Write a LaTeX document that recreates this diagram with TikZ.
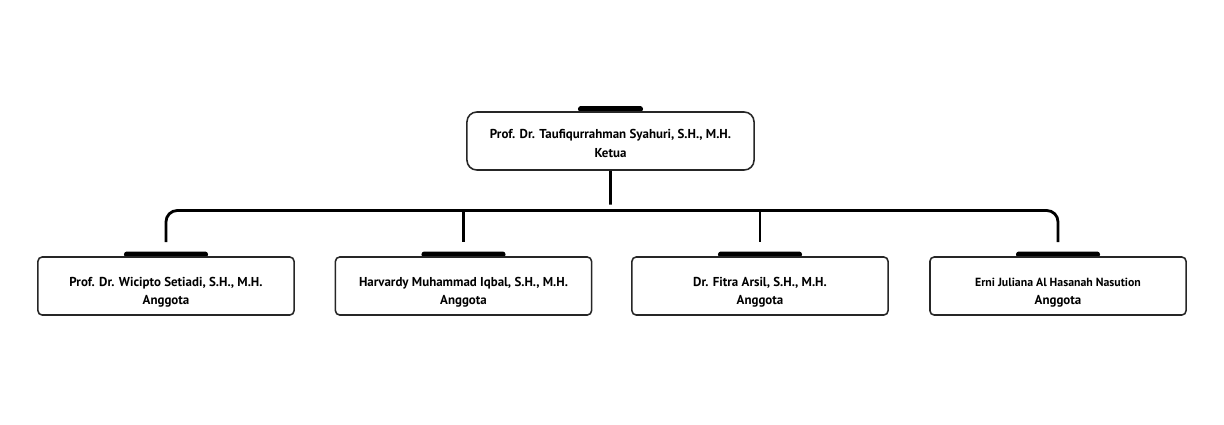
\documentclass[tikz,border=0pt]{standalone}
\usepackage{fontspec}
\setmainfont{PT Sans}
\usetikzlibrary{positioning, calc}

\newcommand{\gap}[1][15pt]{\rule{0pt}{#1}}
\tikzset{
  member/.style={draw=black!85, line width=1.1pt, rounded corners=3pt, fill=white, minimum width=6.4cm, minimum height=1.45cm, align=center, inner sep=2pt, font=\bfseries\fontsize{9.2}{12.8}\selectfont},
  chair/.style={member, rounded corners=7pt, minimum width=7.175cm},
  tab/.style={fill=black, rounded corners=2pt, minimum width=2.1cm, minimum height=0.15cm, inner sep=0pt},
  link/.style={line width=2pt, black}
}

\begin{document}
\begin{tikzpicture}[x=0.025cm, y=-0.025cm]
  \fill[white] (0,0) rectangle (1224,424);
  \useasboundingbox (0,0) rectangle (1224,424);

  % Ketua
  \node[tab, minimum width=1.625cm] (t0) at (610.5,109) {};
  \node[chair] (ketua) at (610.5,141) {\gap[10pt]Prof. Dr. Taufiqurrahman Syahuri, S.H., M.H.\\[1pt]Ketua};

  % Anggota
  \node[tab] (t1) at (166,254.5) {};
  \node[tab] (t2) at (463.5,254.5) {};
  \node[tab] (t3) at (760,254.5) {};
  \node[tab] (t4) at (1058,254.5) {};
  \node[member] (a1) at (166,286) {\gap Prof. Dr. Wicipto Setiadi, S.H., M.H.\\Anggota};
  \node[member] (a2) at (463.5,286) {\gap Harvardy Muhammad Iqbal, S.H., M.H.\\Anggota};
  \node[member] (a3) at (760,286) {\gap Dr. Fitra Arsil, S.H., M.H.\\Anggota};
  \node[member] (a4) at (1058,286) {\gap{\fontsize{8.4}{12.8}\selectfont Erni Juliana Al Hasanah Nasution}\\Anggota};

  % Connectors
  \coordinate (bus) at (610.5,210.5);
  \draw[link] (ketua.south) -- ($(ketua.south)!0.85!(ketua.south |- bus)$);
  \draw[link, rounded corners=8pt] ($(t1.north)+(0,-9)$) |- (bus) -| ($(t4.north)+(0,-9)$);
  \draw[link] (t2.north |- bus) -- ($(t2.north)+(0,-9)$);
  \draw[link] (t3.north |- bus) -- ($(t3.north)+(0,-9)$);
\end{tikzpicture}
\end{document}
